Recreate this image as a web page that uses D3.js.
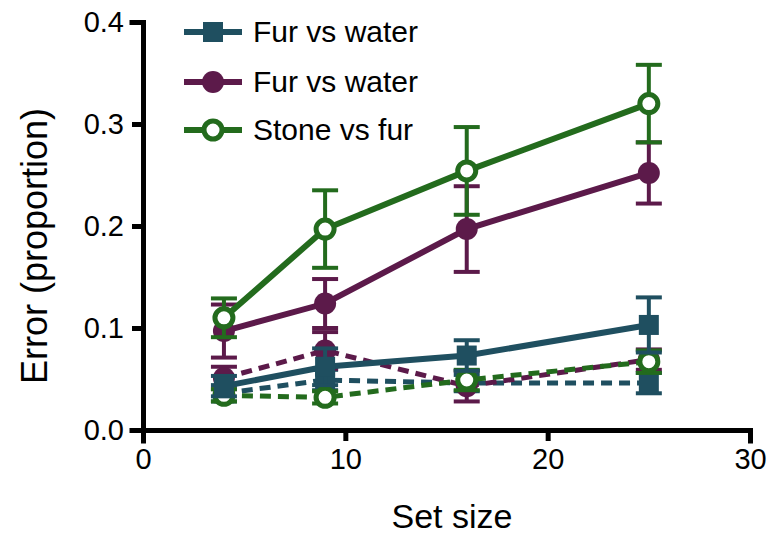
<!DOCTYPE html>
<html>
<head>
<meta charset="utf-8">
<script src="https://cdn.jsdelivr.net/npm/d3@7"></script>
<style>
  body { margin: 0; background: #fff; }
  text { font-family: "Liberation Sans", Arial, sans-serif; }
</style>
</head>
<body>
<div class="svg-content"></div>
<script>
const setSizes = [4, 9, 16, 25];

const legendNames = ["Fur vs water", "Fur vs water", "Stone vs fur"];

// solid lines
const furWaterSquare = [0.043, 0.062, 0.073, 0.103];
const furWaterSquareErr = [0.010, 0.018, 0.015, 0.027];
const furWaterCircle = [0.097, 0.124, 0.197, 0.252];
const furWaterCircleErr = [0.026, 0.024, 0.042, 0.030];
const stoneFur = [0.110, 0.197, 0.254, 0.320];
const stoneFurErr = [0.019, 0.038, 0.043, 0.038];

// dashed lines
const furWaterSquareB = [0.036, 0.049, 0.046, 0.046];
const furWaterSquareBErr = [0.008, 0.010, 0.008, 0.010];
const furWaterCircleB = [0.051, 0.078, 0.043, 0.069];
const furWaterCircleBErr = [0.011, 0.018, 0.015, 0.010];
const stoneFurB = [0.034, 0.032, 0.049, 0.067];
const stoneFurBErr = [0.006, 0.006, 0.010, 0.011];

const xTicks = [0, 10, 20, 30];
const yTicks = [0, 0.1, 0.2, 0.3, 0.4];

const teal = "#1f4f60";
const purple = "#5c1a4a";
const green = "#236b1d";

const series = [
  { vals: furWaterSquareB, errs: furWaterSquareBErr, color: teal, shape: "square", dashed: true },
  { vals: furWaterCircleB, errs: furWaterCircleBErr, color: purple, shape: "circle", dashed: true },
  { vals: stoneFurB, errs: stoneFurBErr, color: green, shape: "open", dashed: true },
  { vals: furWaterSquare, errs: furWaterSquareErr, color: teal, shape: "square", dashed: false },
  { vals: furWaterCircle, errs: furWaterCircleErr, color: purple, shape: "circle", dashed: false },
  { vals: stoneFur, errs: stoneFurErr, color: green, shape: "open", dashed: false }
];

const svgWidth = 773;
const svgHeight = 536;

const xScale = d3.scaleLinear().domain([0, 30]).range([143, 750]);
const yScale = d3.scaleLinear().domain([0, 0.4]).range([430, 22]);

const svg = d3.select(".svg-content")
              .append("svg")
              .attr("width", svgWidth)
              .attr("height", svgHeight);

// axes
const xAxis = d3.axisBottom(xScale).tickValues(xTicks).tickSize(11).tickPadding(7).tickFormat(d3.format("d"));
const yAxis = d3.axisLeft(yScale).tickValues(yTicks).tickSize(11).tickPadding(8).tickFormat(d3.format(".1f"));

const gx = svg.append("g")
              .attr("transform", "translate(0," + yScale(0) + ")")
              .call(xAxis);
const gy = svg.append("g")
              .attr("transform", "translate(" + xScale(0) + ",0)")
              .call(yAxis);

[gx, gy].forEach(g => {
  g.select(".domain").attr("stroke", "#000").attr("stroke-width", 5).attr("stroke-linecap", "square");
  g.selectAll(".tick line").attr("stroke", "#000").attr("stroke-width", 5);
  g.selectAll(".tick text").attr("fill", "#000").style("font-size", "29px");
});

svg.append("text")
   .attr("x", 452)
   .attr("y", 528)
   .attr("text-anchor", "middle")
   .style("font-size", "34px")
   .text("Set size");

svg.append("text")
   .attr("transform", "translate(47,246) rotate(-90)")
   .attr("text-anchor", "middle")
   .style("font-size", "36px")
   .text("Error (proportion)");

const line = d3.line()
               .x((d, i) => xScale(setSizes[i]))
               .y(d => yScale(d));

function drawMarker(g, shape, color, cx, cy) {
  if (shape === "square") {
    g.append("rect")
     .attr("x", cx - 10).attr("y", cy - 10)
     .attr("width", 20).attr("height", 20)
     .attr("fill", color);
  } else if (shape === "circle") {
    g.append("circle")
     .attr("cx", cx).attr("cy", cy).attr("r", 11)
     .attr("fill", color);
  } else {
    g.append("circle")
     .attr("cx", cx).attr("cy", cy).attr("r", 9)
     .attr("fill", "#fff")
     .attr("stroke", color)
     .attr("stroke-width", 5);
  }
}

series.forEach(s => {
  const g = svg.append("g");

  // error bars
  s.vals.forEach((v, i) => {
    const cx = xScale(setSizes[i]);
    const top = yScale(v + s.errs[i]);
    const bot = yScale(v - s.errs[i]);
    g.append("line")
     .attr("x1", cx).attr("x2", cx).attr("y1", top).attr("y2", bot)
     .attr("stroke", s.color).attr("stroke-width", 4);
    [top, bot].forEach(y => {
      g.append("line")
       .attr("x1", cx - 13).attr("x2", cx + 13).attr("y1", y).attr("y2", y)
       .attr("stroke", s.color).attr("stroke-width", 4);
    });
  });

  g.append("path")
   .datum(s.vals)
   .attr("d", line)
   .attr("fill", "none")
   .attr("stroke", s.color)
   .attr("stroke-width", s.dashed ? 5 : 6)
   .attr("stroke-dasharray", s.dashed ? "11,7" : null);

  s.vals.forEach((v, i) => {
    drawMarker(g, s.shape, s.color, xScale(setSizes[i]), yScale(v));
  });
});

// legend
const legendShapes = ["square", "circle", "open"];
const legendColors = [teal, purple, green];
const legendY = [32, 82, 130];

legendNames.forEach((name, i) => {
  const g = svg.append("g");
  g.append("line")
   .attr("x1", 184).attr("x2", 242)
   .attr("y1", legendY[i]).attr("y2", legendY[i])
   .attr("stroke", legendColors[i]).attr("stroke-width", 6);
  drawMarker(g, legendShapes[i], legendColors[i], 213, legendY[i]);
  g.append("text")
   .attr("x", 253)
   .attr("y", legendY[i] + 10)
   .style("font-size", "30px")
   .attr("fill", "#000")
   .text(name);
});
</script>
</body>
</html>
